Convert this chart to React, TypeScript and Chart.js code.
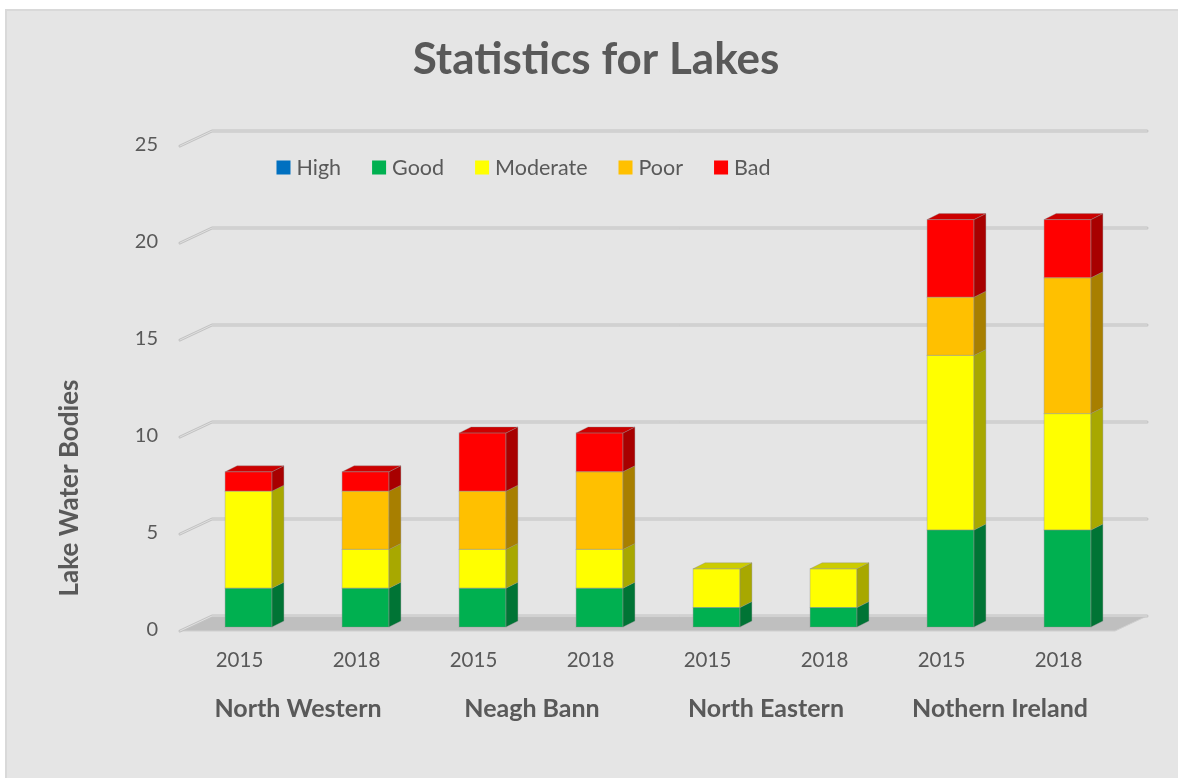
import React, { useEffect, useRef } from "react";
import { Chart, registerables } from "chart.js";

Chart.register(...registerables);

// Lake water body counts by status class, per river basin district and year
const years = ["2015", "2018", "2015", "2018", "2015", "2018", "2015", "2018"];
const regions = ["North Western", "Neagh Bann", "North Eastern", "Nothern Ireland"];
const high = [0, 0, 0, 0, 0, 0, 0, 0];
const good = [2, 2, 2, 2, 1, 1, 5, 5];
const moderate = [5, 2, 2, 2, 2, 2, 9, 6];
const poor = [0, 3, 3, 4, 0, 0, 3, 7];
const bad = [1, 1, 3, 2, 0, 0, 4, 3];
const seriesNames = ["High", "Good", "Moderate", "Poor", "Bad"];
const seriesColors = ["#0070C0", "#00B050", "#FFFF00", "#FFC000", "#FF0000"];
const yMax = 25;
const yStep = 5;

const TITLE = "Statistics for Lakes";
const Y_TITLE = "Lake Water Bodies";
const FONT = "Lato, 'Open Sans', sans-serif";
const TEXT = "#595959";

// bar extrusion
const DX = 12;
const DY = 6;

function shade(hex: string, f: number): string {
  const n = parseInt(hex.slice(1), 16);
  const r = Math.round(((n >> 16) & 255) * f);
  const g = Math.round(((n >> 8) & 255) * f);
  const b = Math.round((n & 255) * f);
  return `rgb(${r},${g},${b})`;
}

const frame = {
  id: "frame",
  beforeDraw(chart: any) {
    const { ctx, width, height } = chart;
    ctx.save();
    ctx.fillStyle = "#ffffff";
    ctx.fillRect(0, 0, width, height);
    ctx.fillStyle = "#d9d9d9";
    ctx.fillRect(5, 9, width, height);
    ctx.fillStyle = "#e5e5e5";
    ctx.fillRect(7, 11, width, height);

    // title
    ctx.fillStyle = TEXT;
    ctx.font = `bold 44px ${FONT}`;
    ctx.textAlign = "center";
    ctx.textBaseline = "middle";
    ctx.fillText(TITLE, 596, 60);

    // y-axis title
    ctx.save();
    ctx.translate(70, 488);
    ctx.rotate(-Math.PI / 2);
    ctx.font = `bold 26px ${FONT}`;
    ctx.fillText(Y_TITLE, 0, 0);
    ctx.restore();

    // legend
    ctx.font = `21.5px ${FONT}`;
    const box = 14;
    const gapText = 6;
    const gapItem = 31;
    const widths = seriesNames.map((s) => ctx.measureText(s).width);
    const total =
      widths.reduce((a, w) => a + box + gapText + w, 0) + gapItem * (seriesNames.length - 1);
    let x = 523.5 - total / 2;
    const ly = 167.5;
    ctx.textAlign = "left";
    seriesNames.forEach((s, i) => {
      ctx.fillStyle = seriesColors[i];
      ctx.fillRect(x, ly - box / 2, box, box);
      ctx.fillStyle = TEXT;
      ctx.fillText(s, x + box + gapText, ly + 1);
      x += box + gapText + widths[i] + gapItem;
    });
    ctx.restore();
  },
  beforeDatasetsDraw(chart: any) {
    const { ctx, chartArea } = chart;
    const ys = chart.scales.y;
    const L = chartArea.left;
    const R = chartArea.right;
    const y0 = ys.getPixelForValue(0);
    ctx.save();
    // floor
    ctx.beginPath();
    ctx.moveTo(L - 10, y0 + 4);
    ctx.lineTo(L + 22, y0 - 11);
    ctx.lineTo(R + 21, y0 - 11);
    ctx.lineTo(R - 11, y0 + 4);
    ctx.closePath();
    ctx.fillStyle = "#bfbfbf";
    ctx.fill();
    ctx.strokeStyle = "#d0d0d0";
    ctx.lineWidth = 1;
    ctx.stroke();

    // back wall and side wall grid lines
    for (let v = 0; v <= yMax; v += yStep) {
      const y = ys.getPixelForValue(v);
      const path = () => {
        ctx.beginPath();
        ctx.moveTo(L - 10, y + 4);
        ctx.lineTo(L + 22, y - 11);
        ctx.lineTo(R + 21, y - 11);
      };
      ctx.lineCap = "round";
      ctx.lineJoin = "round";
      path();
      ctx.strokeStyle = "#c2c2c2";
      ctx.lineWidth = 3;
      ctx.stroke();
      path();
      ctx.strokeStyle = "#e0e0e0";
      ctx.lineWidth = 1;
      ctx.stroke();
    }
    ctx.restore();
  },
  afterDatasetsDraw(chart: any) {
    const { ctx } = chart;
    const n = years.length;
    const topIdx: number[] = [];
    for (let i = 0; i < n; i++) {
      let t = -1;
      chart.data.datasets.forEach((ds: any, d: number) => {
        if (ds.data[i] > 0) t = d;
      });
      topIdx.push(t);
    }
    ctx.save();
    ctx.lineWidth = 1;
    ctx.strokeStyle = "rgba(140,140,140,0.35)";
    chart.data.datasets.forEach((ds: any, d: number) => {
      const meta = chart.getDatasetMeta(d);
      meta.data.forEach((el: any, i: number) => {
        if (!(ds.data[i] > 0)) return;
        const { x, y, base, width } = el.getProps(["x", "y", "base", "width"], true);
        const l = x - width / 2;
        const r = x + width / 2;
        // right side face
        ctx.beginPath();
        ctx.moveTo(r, y);
        ctx.lineTo(r + DX, y - DY);
        ctx.lineTo(r + DX, base - DY);
        ctx.lineTo(r, base);
        ctx.closePath();
        ctx.fillStyle = shade(seriesColors[d], 0.66);
        ctx.fill();
        ctx.stroke();
        // top face on the highest segment
        if (topIdx[i] === d) {
          ctx.beginPath();
          ctx.moveTo(l, y);
          ctx.lineTo(l + DX, y - DY);
          ctx.lineTo(r + DX, y - DY);
          ctx.lineTo(r, y);
          ctx.closePath();
          ctx.fillStyle = shade(seriesColors[d], 0.8);
          ctx.fill();
          ctx.stroke();
        }
        ctx.strokeRect(l, y, width, base - y);
      });
    });
    ctx.restore();
  },
};

export default function App() {
  const ref = useRef<HTMLCanvasElement | null>(null);

  useEffect(() => {
    if (!ref.current) return;
    const series = [high, good, moderate, poor, bad];
    const chart = new Chart(ref.current, {
      type: "bar",
      data: {
        labels: years,
        datasets: series.map((data, i) => ({
          label: seriesNames[i],
          data,
          backgroundColor: seriesColors[i],
          borderWidth: 0,
          categoryPercentage: 1,
          barPercentage: 0.4,
        })),
      },
      options: {
        responsive: false,
        animation: false,
        devicePixelRatio: 1,
        layout: { padding: { left: 80, right: 52, top: 142, bottom: 41 } },
        plugins: {
          legend: { display: false },
          title: { display: false },
          tooltip: { enabled: false },
        },
        scales: {
          x: {
            stacked: true,
            offset: true,
            grid: { display: false, drawTicks: false },
            border: { display: false },
            ticks: {
              color: TEXT,
              font: { family: FONT, size: 20.5 },
              padding: 21,
              labelOffset: -9,
              maxRotation: 0,
            },
            afterFit: (s: any) => {
              s.height = 50;
            },
          },
          x2: {
            type: "category",
            labels: regions,
            position: "bottom",
            offset: true,
            grid: { display: false, drawTicks: false },
            border: { display: false },
            ticks: {
              color: TEXT,
              font: { family: FONT, size: 25, weight: "bold" },
              padding: 17,
              labelOffset: -9,
              maxRotation: 0,
            },
            afterFit: (s: any) => {
              s.height = 60;
            },
          },
          y: {
            stacked: true,
            min: 0,
            max: yMax,
            ticks: {
              stepSize: yStep,
              color: TEXT,
              font: { family: FONT, size: 20 },
              padding: 32,
              labelOffset: 3,
            },
            grid: { display: false, drawTicks: false },
            border: { display: false },
            afterFit: (s: any) => {
              s.width = 110;
            },
          },
        },
      },
      plugins: [frame],
    });
    return () => chart.destroy();
  }, []);

  return (
    <div style={{ position: "fixed", left: 0, top: 0, width: 1178, height: 778 }}>
      <canvas ref={ref} width={1178} height={778} style={{ display: "block" }} />
    </div>
  );
}
